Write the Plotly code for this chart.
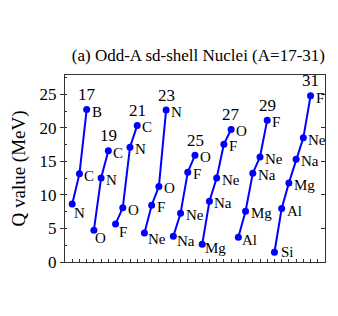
import plotly.graph_objects as go

# Mass numbers of the odd-A isobar chains
mass_numbers = [17, 19, 21, 23, 25, 27, 29, 31]

# Nuclei in each chain (lowest Q first)
elements_17 = ["N", "C", "B"]
elements_19 = ["O", "N", "C"]
elements_21 = ["F", "O", "N", "C"]
elements_23 = ["Ne", "F", "O", "N"]
elements_25 = ["Na", "Ne", "F", "O"]
elements_27 = ["Mg", "Na", "Ne", "F", "O"]
elements_29 = ["Al", "Mg", "Na", "Ne", "F"]
elements_31 = ["Si", "Al", "Mg", "Na", "Ne", "F"]

# Q values (MeV)
q_17 = [8.65, 13.15, 22.75]
q_19 = [4.75, 12.55, 16.6]
q_21 = [5.68, 8.08, 17.12, 20.38]
q_23 = [4.33, 8.47, 11.27, 22.66]
q_25 = [3.84, 7.27, 13.4, 15.93]
q_27 = [2.64, 9.06, 12.54, 17.58, 19.77]
q_29 = [3.69, 7.57, 13.25, 15.68, 21.16]
q_31 = [1.45, 7.97, 11.8, 15.34, 18.52, 24.79]

y_ticks = [0, 5, 10, 15, 20, 25]

elements = [elements_17, elements_19, elements_21, elements_23,
            elements_25, elements_27, elements_29, elements_31]
qvals = [q_17, q_19, q_21, q_23, q_25, q_27, q_29, q_31]

# Pixel offsets (style) of the label of the lowest nucleus in each chain
first_label_dx = [0, -1, 1, 2, 2, 1, 2, 5]
first_label_dy = [-9, -8, -8, -6, -5, -4, -3, 0]

FONT = "Liberation Serif"
BLUE = "#0000ff"

fig = go.Figure()
idx = 1
annotations = []
for g, (a, els, qs) in enumerate(zip(mass_numbers, elements, qvals)):
    xs = list(range(idx, idx + len(qs)))
    idx += len(qs)
    fig.add_trace(go.Scatter(
        x=xs, y=qs, mode="lines+markers",
        line=dict(color=BLUE, width=2),
        marker=dict(color=BLUE, size=7),
        showlegend=False, cliponaxis=False,
    ))
    for k, (xv, yv, el) in enumerate(zip(xs, qs, els)):
        first = (k == 0)
        annotations.append(dict(
            x=xv, y=yv, xref="x", yref="y", text=el, showarrow=False,
            xanchor="left", yanchor="middle",
            xshift=first_label_dx[g] if first else 3,
            yshift=first_label_dy[g] if first else -2,
            font=dict(family=FONT, size=15, color="black"),
        ))
    annotations.append(dict(
        x=xs[-1], y=qs[-1], xref="x", yref="y", text=str(a),
        showarrow=False, yshift=15,
        font=dict(family=FONT, size=17, color="black"),
    ))

# invisible trace to anchor right mirror axis
fig.add_trace(go.Scatter(x=[None], y=[None], yaxis="y2", showlegend=False))

fig.update_layout(
    width=330, height=308,
    margin=dict(l=57, r=13, t=67, b=54),
    paper_bgcolor="white", plot_bgcolor="white",
    title=dict(text="(a) Odd-A sd-shell Nuclei (A=17-31)",
               x=0.513, xref="paper", y=1 - 47 / 308, yanchor="middle",
               font=dict(family=FONT, size=17, color="black")),
    annotations=annotations,
    xaxis=dict(range=[0, 36], showgrid=False, zeroline=False,
               showline=True, linecolor="#333", linewidth=1, mirror=True,
               ticks="inside", tick0=0, dtick=1, ticklen=3, tickcolor="#333",
               showticklabels=False),
    yaxis=dict(range=[0, 27.9], showgrid=False, zeroline=False,
               showline=True, linecolor="#333", linewidth=1, mirror=True,
               ticks="outside", tickvals=y_ticks, ticklen=4, tickcolor="#333",
               minor=dict(ticks="inside", dtick=2.5, tick0=0, ticklen=2, tickcolor="#333"),
               tickfont=dict(family=FONT, size=17, color="black"),
               title=dict(text="Q value (MeV)", standoff=14,
                          font=dict(family=FONT, size=19, color="black")),
               automargin=False),
    yaxis2=dict(range=[0, 27.9], overlaying="y", side="right", showgrid=False,
                zeroline=False, showline=False, ticks="inside", tickvals=y_ticks,
                ticklen=4, tickcolor="#333", showticklabels=False),
)

fig.write_html("out.html")
